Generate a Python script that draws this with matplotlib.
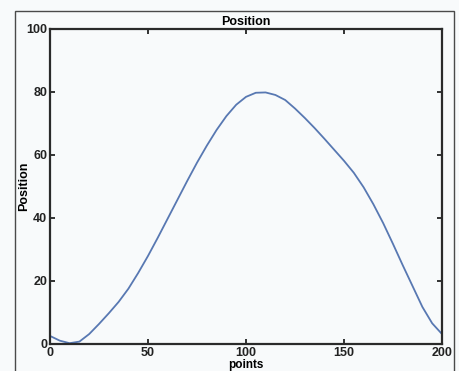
import numpy as np
import matplotlib
matplotlib.use("Agg")
import matplotlib.pyplot as plt
from matplotlib.patches import Rectangle

# position, every 5 points
points = list(range(0, 201, 5))
position = [2.4, 0.9, 0.1, 0.6, 3.0, 6.2, 9.6, 13.2, 17.4, 22.4,
            27.8, 33.6, 39.6, 45.6, 51.6, 57.4, 62.8, 67.8, 72.2, 75.8,
            78.3, 79.6, 79.7, 78.9, 77.3, 74.6, 71.6, 68.4, 65.0, 61.5,
            58.0, 54.2, 49.6, 44.2, 38.2, 31.6, 24.8, 18.2, 11.6, 6.4,
            3.0]
xticks = [0, 50, 100, 150, 200]
yticks = [0, 20, 40, 60, 80, 100]


def main():
    plt.rcParams["font.family"] = ["Liberation Sans", "DejaVu Sans"]
    plt.rcParams["font.weight"] = "bold"

    fig = plt.figure(figsize=(4.6, 3.71), dpi=100, facecolor="#f8fafb")
    # outer figure frame from the scan
    fig.patches.append(Rectangle((15 / 460, -0.1), (454 - 15) / 460, 1.1 - 11 / 371,
                                 transform=fig.transFigure, fill=False,
                                 edgecolor="#4a4a4a", linewidth=1.0))

    ax = fig.add_axes([50 / 460, 1 - 343.5 / 371, 392 / 460, 315 / 371])
    ax.set_facecolor("#f8fafb")
    ax.plot(points, position, color="#5878b2", linewidth=1.3)

    ax.set_xlim(0, 200)
    ax.set_ylim(0, 100)
    ax.set_xticks(xticks)
    ax.set_yticks(yticks)
    ax.tick_params(direction="in", length=3.5, width=1.3, labelsize=9,
                   top=True, right=True, pad=2, colors="#222222")
    ax.tick_params(axis="x", pad=2.5)
    for s in ax.spines.values():
        s.set_linewidth(1.6)
        s.set_color("#2a2a2a")

    ax.set_title("Position", fontsize=9, fontweight="bold", pad=2.5)
    ax.set_xlabel("points", fontsize=8.5, fontweight="bold", labelpad=0)
    ax.set_ylabel("Position", fontsize=9, fontweight="bold", labelpad=-3)

    fig.savefig("out.png", dpi=100, facecolor=fig.get_facecolor())


if __name__ == "__main__":
    main()
